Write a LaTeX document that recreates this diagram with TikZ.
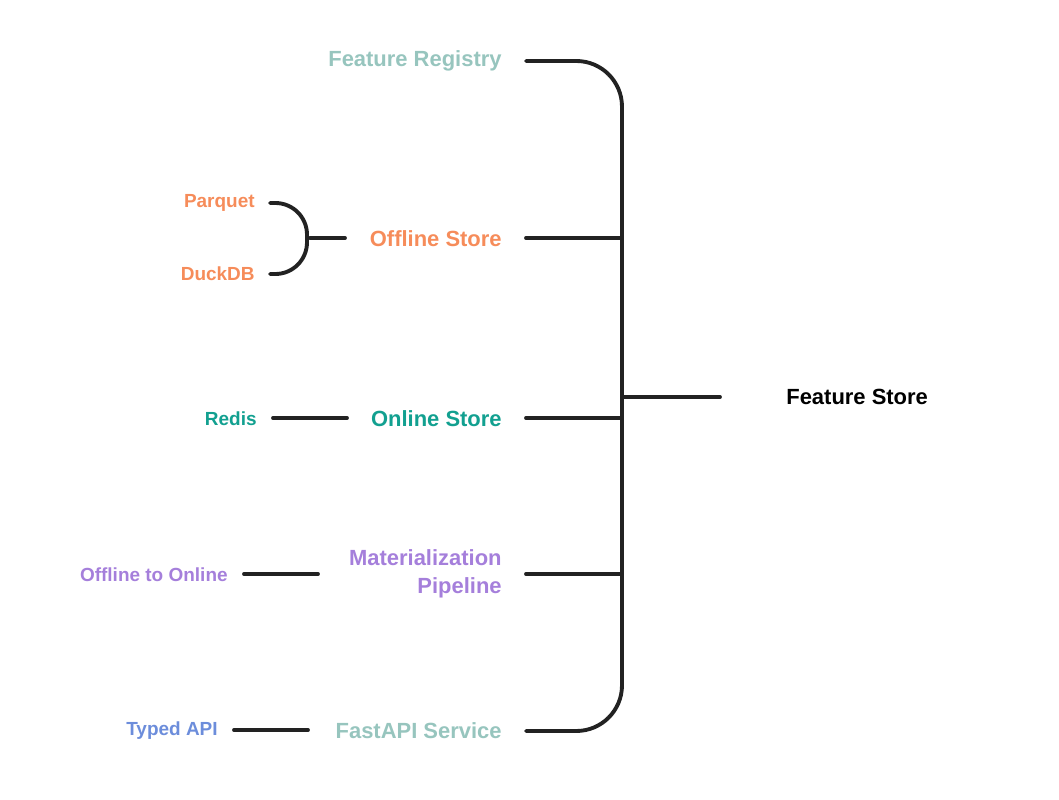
\documentclass[tikz,border=0pt]{standalone}
\usepackage{fontspec}
\setmainfont{Liberation Sans}
\definecolor{cSage}{HTML}{97C5BE}
\definecolor{cOrange}{HTML}{F68C5A}
\definecolor{cTeal}{HTML}{12A090}
\definecolor{cPurple}{HTML}{A57FDB}
\definecolor{cBlue}{HTML}{6C8DDB}
\definecolor{cLine}{HTML}{222222}
\tikzstyle{link}=[line width=2.2pt, cLine, line cap=round]
\tikzstyle{main}=[anchor=east, inner sep=0pt, font=\fontsize{12.5}{16}\selectfont\bfseries]
\tikzstyle{leaf}=[anchor=east, inner sep=0pt, font=\fontsize{10.8}{12}\selectfont\bfseries]

\begin{document}
\begin{tikzpicture}[x=0.02cm, y=-0.02cm]
	\useasboundingbox (0,0) rectangle (1059,800);
	\node[anchor=west, inner sep=0pt, font=\fontsize{12.5}{14}\selectfont\bfseries] (root) at (786,397) {Feature Store};
	\node[main, cSage] (reg) at (502,61) {Feature Registry};
	\node[main, cOrange] (off) at (502,239) {Offline Store};
	\node[main, cTeal] (on) at (502,419) {Online Store};
	\node[main, cPurple, align=right] (mat) at (502,574) {Materialization\\Pipeline};
	\node[main, cSage] (api) at (502,731) {FastAPI Service};
	\node[leaf, cOrange] (parq) at (255,203) {Parquet};
	\node[leaf, cOrange] (duck) at (255,274) {DuckDB};
	\node[leaf, cTeal] (redis) at (257,419) {Redis};
	\node[leaf, cPurple] (o2o) at (228,575) {Offline to Online};
	\node[leaf, cBlue] (typed) at (218,731) {Typed API};

	\coordinate (hub) at (622,397);
	\draw[link] (hub) -- (720,397);
	\draw[link, rounded corners=26] (526,61) -- (622,61) -- (622,731) -- (526,731);
	\draw[link] (526,238) -- (622,238);
	\draw[link] (526,418) -- (622,418);
	\draw[link] (526,574) -- (622,574);

	\draw[link] (310,238) -- (345,238);
	\draw[link, rounded corners=18] (270,203) -- (307,203) -- (307,274) -- (270,274);
	\draw[link] (273,418) -- (347,418);
	\draw[link] (244,574) -- (318,574);
	\draw[link] (234,730) -- (308,730);
\end{tikzpicture}
\end{document}
